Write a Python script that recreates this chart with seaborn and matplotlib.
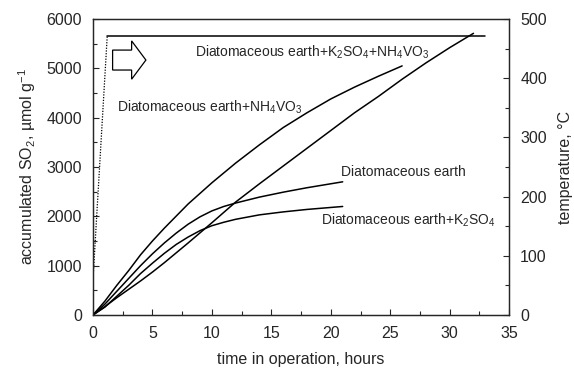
import numpy as np
import pandas as pd
import matplotlib
matplotlib.use("Agg")
import matplotlib.pyplot as plt
from matplotlib.patches import FancyArrow
from matplotlib.ticker import MultipleLocator
import seaborn as sns

# ---- data ----
t_nh4vo3 = [0, 1, 2, 3, 4, 5, 6, 8, 10, 12, 14, 16, 18, 20, 22, 24, 26]
so2_nh4vo3 = [0, 280, 600, 900, 1220, 1500, 1760, 2250, 2680, 3080, 3450, 3800, 4100, 4380, 4620, 4840, 5050]

t_k2so4_nh4vo3 = [0, 1, 2, 3, 4, 5, 6, 8, 10, 12, 14, 16, 18, 20, 22, 24, 26, 28, 30, 32]
so2_k2so4_nh4vo3 = [0, 170, 350, 520, 690, 870, 1060, 1460, 1870, 2290, 2660, 3020, 3380, 3740, 4100, 4430, 4780, 5110, 5420, 5710]

t_de = [0, 1, 2, 3, 4, 5, 6, 7, 8, 9, 10, 11, 12, 14, 16, 18, 21]
so2_de = [0, 220, 480, 740, 1000, 1240, 1460, 1660, 1840, 1990, 2110, 2200, 2270, 2390, 2490, 2580, 2700]

t_k2so4 = [0, 1, 2, 3, 4, 5, 6, 7, 8, 9, 10, 11, 12, 14, 16, 18, 21]
so2_k2so4 = [0, 160, 380, 600, 840, 1050, 1250, 1430, 1580, 1710, 1810, 1880, 1940, 2030, 2090, 2140, 2200]

t_temp = [0, 1.2, 33]
temp = [60, 472, 472]

labels = [
    "Diatomaceous earth+K$_2$SO$_4$+NH$_4$VO$_3$",
    "Diatomaceous earth+NH$_4$VO$_3$",
    "Diatomaceous earth",
    "Diatomaceous earth+K$_2$SO$_4$",
]

sns.set_style("ticks")
plt.rcParams["font.family"] = ["Liberation Sans", "DejaVu Sans"]
plt.rcParams["mathtext.fontset"] = "custom"
plt.rcParams["mathtext.rm"] = "Liberation Sans"
plt.rcParams["mathtext.it"] = "Liberation Sans:italic"
plt.rcParams["mathtext.default"] = "regular"

fig = plt.figure(figsize=(5.74, 3.77), dpi=100)
ax = fig.add_axes([0.162, 0.1645, 0.725, 0.785])
ax2 = ax.twinx()

lw = 1.1
for t, y in [(t_k2so4_nh4vo3, so2_k2so4_nh4vo3), (t_nh4vo3, so2_nh4vo3),
             (t_de, so2_de), (t_k2so4, so2_k2so4)]:
    df = pd.DataFrame({"t": t, "y": y})
    sns.lineplot(data=df, x="t", y="y", ax=ax, color="black", lw=lw)

dft = pd.DataFrame({"t": t_temp[:2], "T": temp[:2]})
sns.lineplot(data=dft, x="t", y="T", ax=ax2, color="black", lw=0.9, linestyle=(0, (1, 1.2)))
dft2 = pd.DataFrame({"t": t_temp[1:], "T": temp[1:]})
sns.lineplot(data=dft2, x="t", y="T", ax=ax2, color="black", lw=lw)

ax.set_xlim(0, 35)
ax.set_ylim(0, 6000)
ax2.set_ylim(0, 500)

fs = 11.5
ax.xaxis.set_major_locator(MultipleLocator(5))
ax.xaxis.set_minor_locator(MultipleLocator(2.5))
ax.yaxis.set_major_locator(MultipleLocator(1000))
ax.yaxis.set_minor_locator(MultipleLocator(500))
ax2.yaxis.set_major_locator(MultipleLocator(100))
ax2.yaxis.set_minor_locator(MultipleLocator(50))
for a in (ax, ax2):
    a.tick_params(which="both", direction="in", labelsize=fs, width=0.8)
    a.tick_params(which="major", length=4, pad=8)
    a.tick_params(which="minor", length=3)
    for s in a.spines.values():
        s.set_linewidth(0.9)
        s.set_visible(True)

ax.set_xlabel("time in operation, hours", fontsize=fs, labelpad=8)
ax.set_ylabel("accumulated SO$_2$, µmol g$^{-1}$", fontsize=fs, labelpad=6)
ax2.set_ylabel("temperature, °C", fontsize=fs, labelpad=8)

tfs = 10
ax.text(8.6, 5330, labels[0], fontsize=tfs, va="center", ha="left")
ax.text(2.0, 4220, labels[1], fontsize=tfs, va="center", ha="left")
ax.text(20.9, 2905, labels[2], fontsize=tfs, va="center", ha="left")
ax.text(19.2, 1926, labels[3], fontsize=tfs, va="center", ha="left")

arrow = FancyArrow(1.65, 430.7, 2.8, 0, width=33.7, head_width=64.7, head_length=1.2,
                   length_includes_head=True, fill=False, ec="black", lw=0.9)
ax2.add_patch(arrow)

fig.savefig("out.png", dpi=100)
